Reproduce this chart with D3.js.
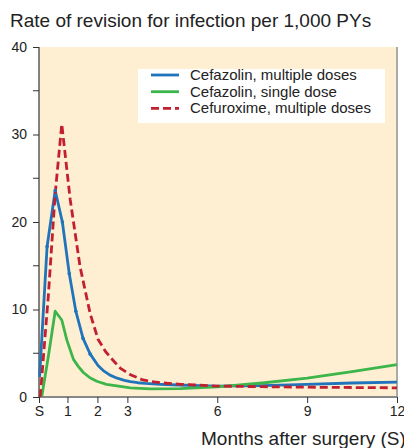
<!DOCTYPE html>
<html><head><meta charset="utf-8">
<script src="https://cdn.jsdelivr.net/npm/d3@7"></script>
<style>body{margin:0;background:#fff}svg{display:block}text{font-family:"Liberation Sans",Arial,sans-serif;fill:#222}</style>
</head><body>
<svg id="c" width="404" height="448"></svg>
<script>
const seriesNames = ["Cefazolin, multiple doses", "Cefazolin, single dose", "Cefuroxime, multiple doses"];
const seriesColors = ["#1f74bb", "#3cb54a", "#c3202f"];
const blueMonths = [0.07,0.32,0.59,0.83,1.06,1.28,1.52,1.76,2.02,2.22,2.42,2.66,2.9,3.1,3.35,3.6,4.1,4.7,5.4,6.0,7.5,9.0,10.5,12];
const blueValues = [2.3,17.2,23.6,20.0,14.1,9.8,6.7,4.9,3.6,2.95,2.5,2.15,1.9,1.75,1.63,1.55,1.45,1.37,1.3,1.25,1.3,1.45,1.6,1.7];
const greenMonths = [0.14,0.36,0.59,0.81,0.98,1.2,1.36,1.53,1.75,1.98,2.3,2.65,3.1,3.76,4.76,6.0,7.5,9.0,10.5,12];
const greenValues = [0,4.6,9.8,8.8,6.5,4.3,3.5,2.8,2.2,1.8,1.45,1.26,1.05,0.93,0.95,1.15,1.6,2.15,2.9,3.7];
const redMonths = [0.09,0.36,0.59,0.81,1.09,1.42,1.76,2.02,2.27,2.52,2.76,3.1,3.52,3.9,4.32,4.8,5.42,6.0,7.5,9.0,12];
const redValues = [0,11.5,23.2,31.2,22.6,14.9,9.5,6.6,5.2,4.2,3.3,2.55,1.95,1.72,1.57,1.45,1.35,1.25,1.18,1.12,1.05];
const xTickValues = [0.05,1,2,3,6,9,12];
const xTickLabels = ["S","1","2","3","6","9","12"];
const yTickValues = [0,10,20,30,40];
const yMinorTicks = [5,15,25,35];

const svg = d3.select("#c");
const L=39, R=397, T=47, B=397;
const x = d3.scaleLinear().domain([0.05,12]).range([L,R]);
const y = d3.scaleLinear().domain([0,40]).range([B,T]);

svg.append("rect").attr("x",L).attr("y",T).attr("width",R-L).attr("height",B-T).attr("fill","#feefd3");
svg.append("line").attr("x1",R).attr("x2",R).attr("y1",T).attr("y2",B).attr("stroke","#aaa").attr("stroke-width",2);

// y axis
const ya = svg.append("g").attr("transform",`translate(${L},0)`)
  .call(d3.axisLeft(y).tickValues(yTickValues).tickSize(6).tickPadding(6));
ya.select(".domain").attr("stroke","#333").attr("stroke-width",1.2).attr("d",`M0,${T}V${B}`);
ya.selectAll(".tick line").attr("stroke","#333");
ya.selectAll("text").style("font-size","14px").attr("fill","#222");
svg.append("g").selectAll("line").data(yMinorTicks).join("line")
  .attr("x1",L-6).attr("x2",L).attr("y1",d=>y(d)).attr("y2",d=>y(d)).attr("stroke","#333");

// x axis
const xa = svg.append("g").attr("transform",`translate(0,${B})`)
  .call(d3.axisBottom(x).tickValues(xTickValues).tickFormat((d,i)=>xTickLabels[i]).tickSize(6).tickPadding(3));
xa.select(".domain").attr("stroke","#888").attr("stroke-width",2).attr("d",`M${L},0H${R}`);
xa.selectAll(".tick line").attr("stroke","#333");
xa.selectAll("text").style("font-size","14px").attr("fill","#222");

const line = d3.line().x(d=>x(d[0])).y(d=>y(d[1])).curve(d3.curveLinear);
const series = [
  {m:blueMonths,v:blueValues,c:seriesColors[0],dash:null},
  {m:greenMonths,v:greenValues,c:seriesColors[1],dash:null},
  {m:redMonths,v:redValues,c:seriesColors[2],dash:"8,4"}
];
series.forEach(s=>{
  const pts = s.m.map((m,i)=>[m,s.v[i]]);
  svg.append("path").attr("d",line(pts)).attr("fill","none").attr("stroke",s.c)
    .attr("stroke-width",2.8).attr("stroke-linejoin","round").attr("stroke-dasharray",s.dash);
});
svg.append("g").selectAll("circle").data(blueMonths.slice(1,8).map((m,i)=>[m,blueValues[i+1]])).join("circle")
  .attr("cx",d=>x(d[0])).attr("cy",d=>y(d[1])).attr("r",1.8).attr("fill",seriesColors[0]);

// legend
svg.append("rect").attr("x",138).attr("y",69).attr("width",247).attr("height",54).attr("fill","#fff");
seriesNames.forEach((n,i)=>{
  const yy = 75 + i*16.7;
  svg.append("line").attr("x1",151).attr("x2",179).attr("y1",yy).attr("y2",yy)
    .attr("stroke",seriesColors[i]).attr("stroke-width",2.8).attr("stroke-dasharray",i==2?"8,4":null);
  svg.append("text").attr("x",190).attr("y",yy+5).style("font-size","15px").text(n);
});

svg.append("text").attr("x",10).attr("y",27).style("font-size","19px").text("Rate of revision for infection per 1,000 PYs");
svg.append("text").attr("x",201).attr("y",445).style("font-size","19px").text("Months after surgery (S)");
</script>
</body></html>
